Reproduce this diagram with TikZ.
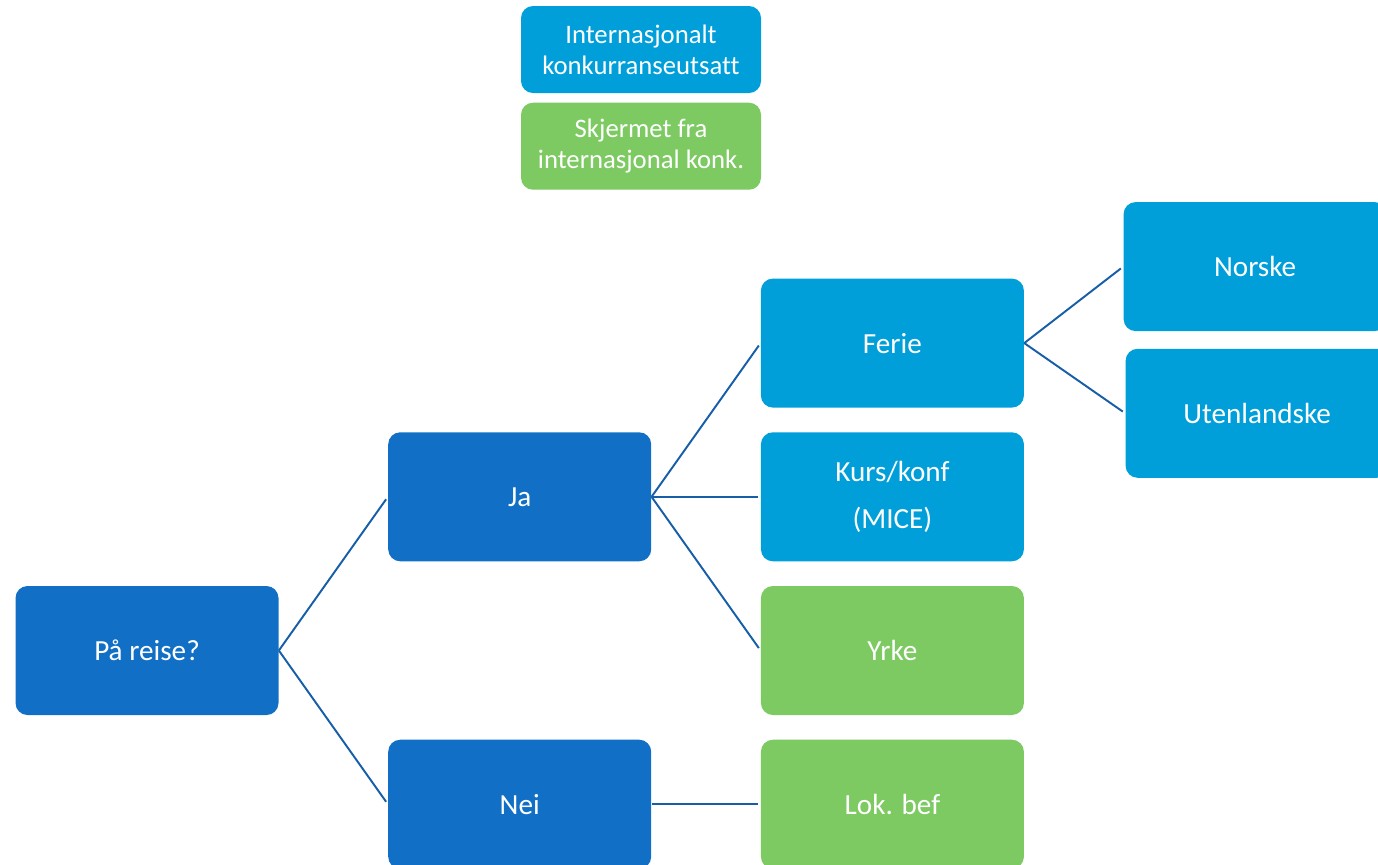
\documentclass[tikz,border=0pt]{standalone}
\usepackage{fontspec}
\setmainfont{Carlito}[Ligatures=NoCommon]
\usetikzlibrary{positioning}
\definecolor{darkblue}{RGB}{17,112,198}
\definecolor{lightblue}{RGB}{0,159,218}
\definecolor{lightgreen}{RGB}{125,202,99}
\definecolor{linkblue}{RGB}{22,94,168}
\begin{document}
\begin{tikzpicture}[
                        node distance=0.48cm,
                        auto,
                        block/.style={
                            rectangle,
                            text=white,
                            align=center,
                            rounded corners=0.24cm,
                            minimum width=5.26cm,
                            minimum height=2.58cm,
                            inner sep=0pt,
                            font=\fontsize{16.6}{20}\selectfont
                        },
                        legend/.style={
                            block,
                            minimum width=4.8cm,
                            minimum height=1.74cm,
                            font=\fontsize{15.2}{17.5}\selectfont
                        },
                        line/.style={
                            draw,
                            linkblue,
                            line width=1.1pt,
                            shorten >=0.06cm
                        }]

                        \clip (0,0) rectangle (27.56,-17.28);
                        \useasboundingbox (0,0) rectangle (27.56,-17.28);

                        % legend
                        \node (legend_open) [legend, fill=lightblue] at (12.82,-0.99) {Internasjonalt\\konkurranseutsatt};
                        \node (legend_sheltered) [legend, fill=lightgreen, below=0.18cm of legend_open] {Skjermet fra\\internasjonal konk.};

                        % tree
                        \node (paa_reise) [block, fill=darkblue] at (2.94,-13.01) {På reise?};
                        \node (ja) [block, fill=darkblue, above right=0.48cm and 2.18cm of paa_reise] {Ja};
                        \node (nei) [block, fill=darkblue, below right=0.48cm and 2.18cm of paa_reise] {Nei};
                        \node (kurs) [block, fill=lightblue, right=2.18cm of ja, font=\fontsize{16.6}{27}\selectfont] {Kurs/konf\\(MICE)};
                        \node (ferie) [block, fill=lightblue, above=of kurs] {Ferie};
                        \node (yrke) [block, fill=lightgreen, below=of kurs] {Yrke};
                        \node (lok_bef) [block, fill=lightgreen, below=of yrke] {Lok. bef};
                        \node (norske) [block, fill=lightblue, right=1.98cm of ferie, yshift=1.53cm] {Norske};
                        \node (utenlandske) [block, fill=lightblue, below=0.34cm of norske, xshift=0.04cm] {Utenlandske};

                        \draw [line] (paa_reise.east) -- (ja.west);
                        \draw [line] (paa_reise.east) -- (nei.west);
                        \draw [line] (ja.east) -- (ferie.west);
                        \draw [line] (ja.east) -- (kurs.west);
                        \draw [line] (ja.east) -- (yrke.west);
                        \draw [line] (nei.east) -- (lok_bef.west);
                        \draw [line] (ferie.east) -- (norske.west);
                        \draw [line] (ferie.east) -- (utenlandske.west);

                    \end{tikzpicture}
\end{document}
